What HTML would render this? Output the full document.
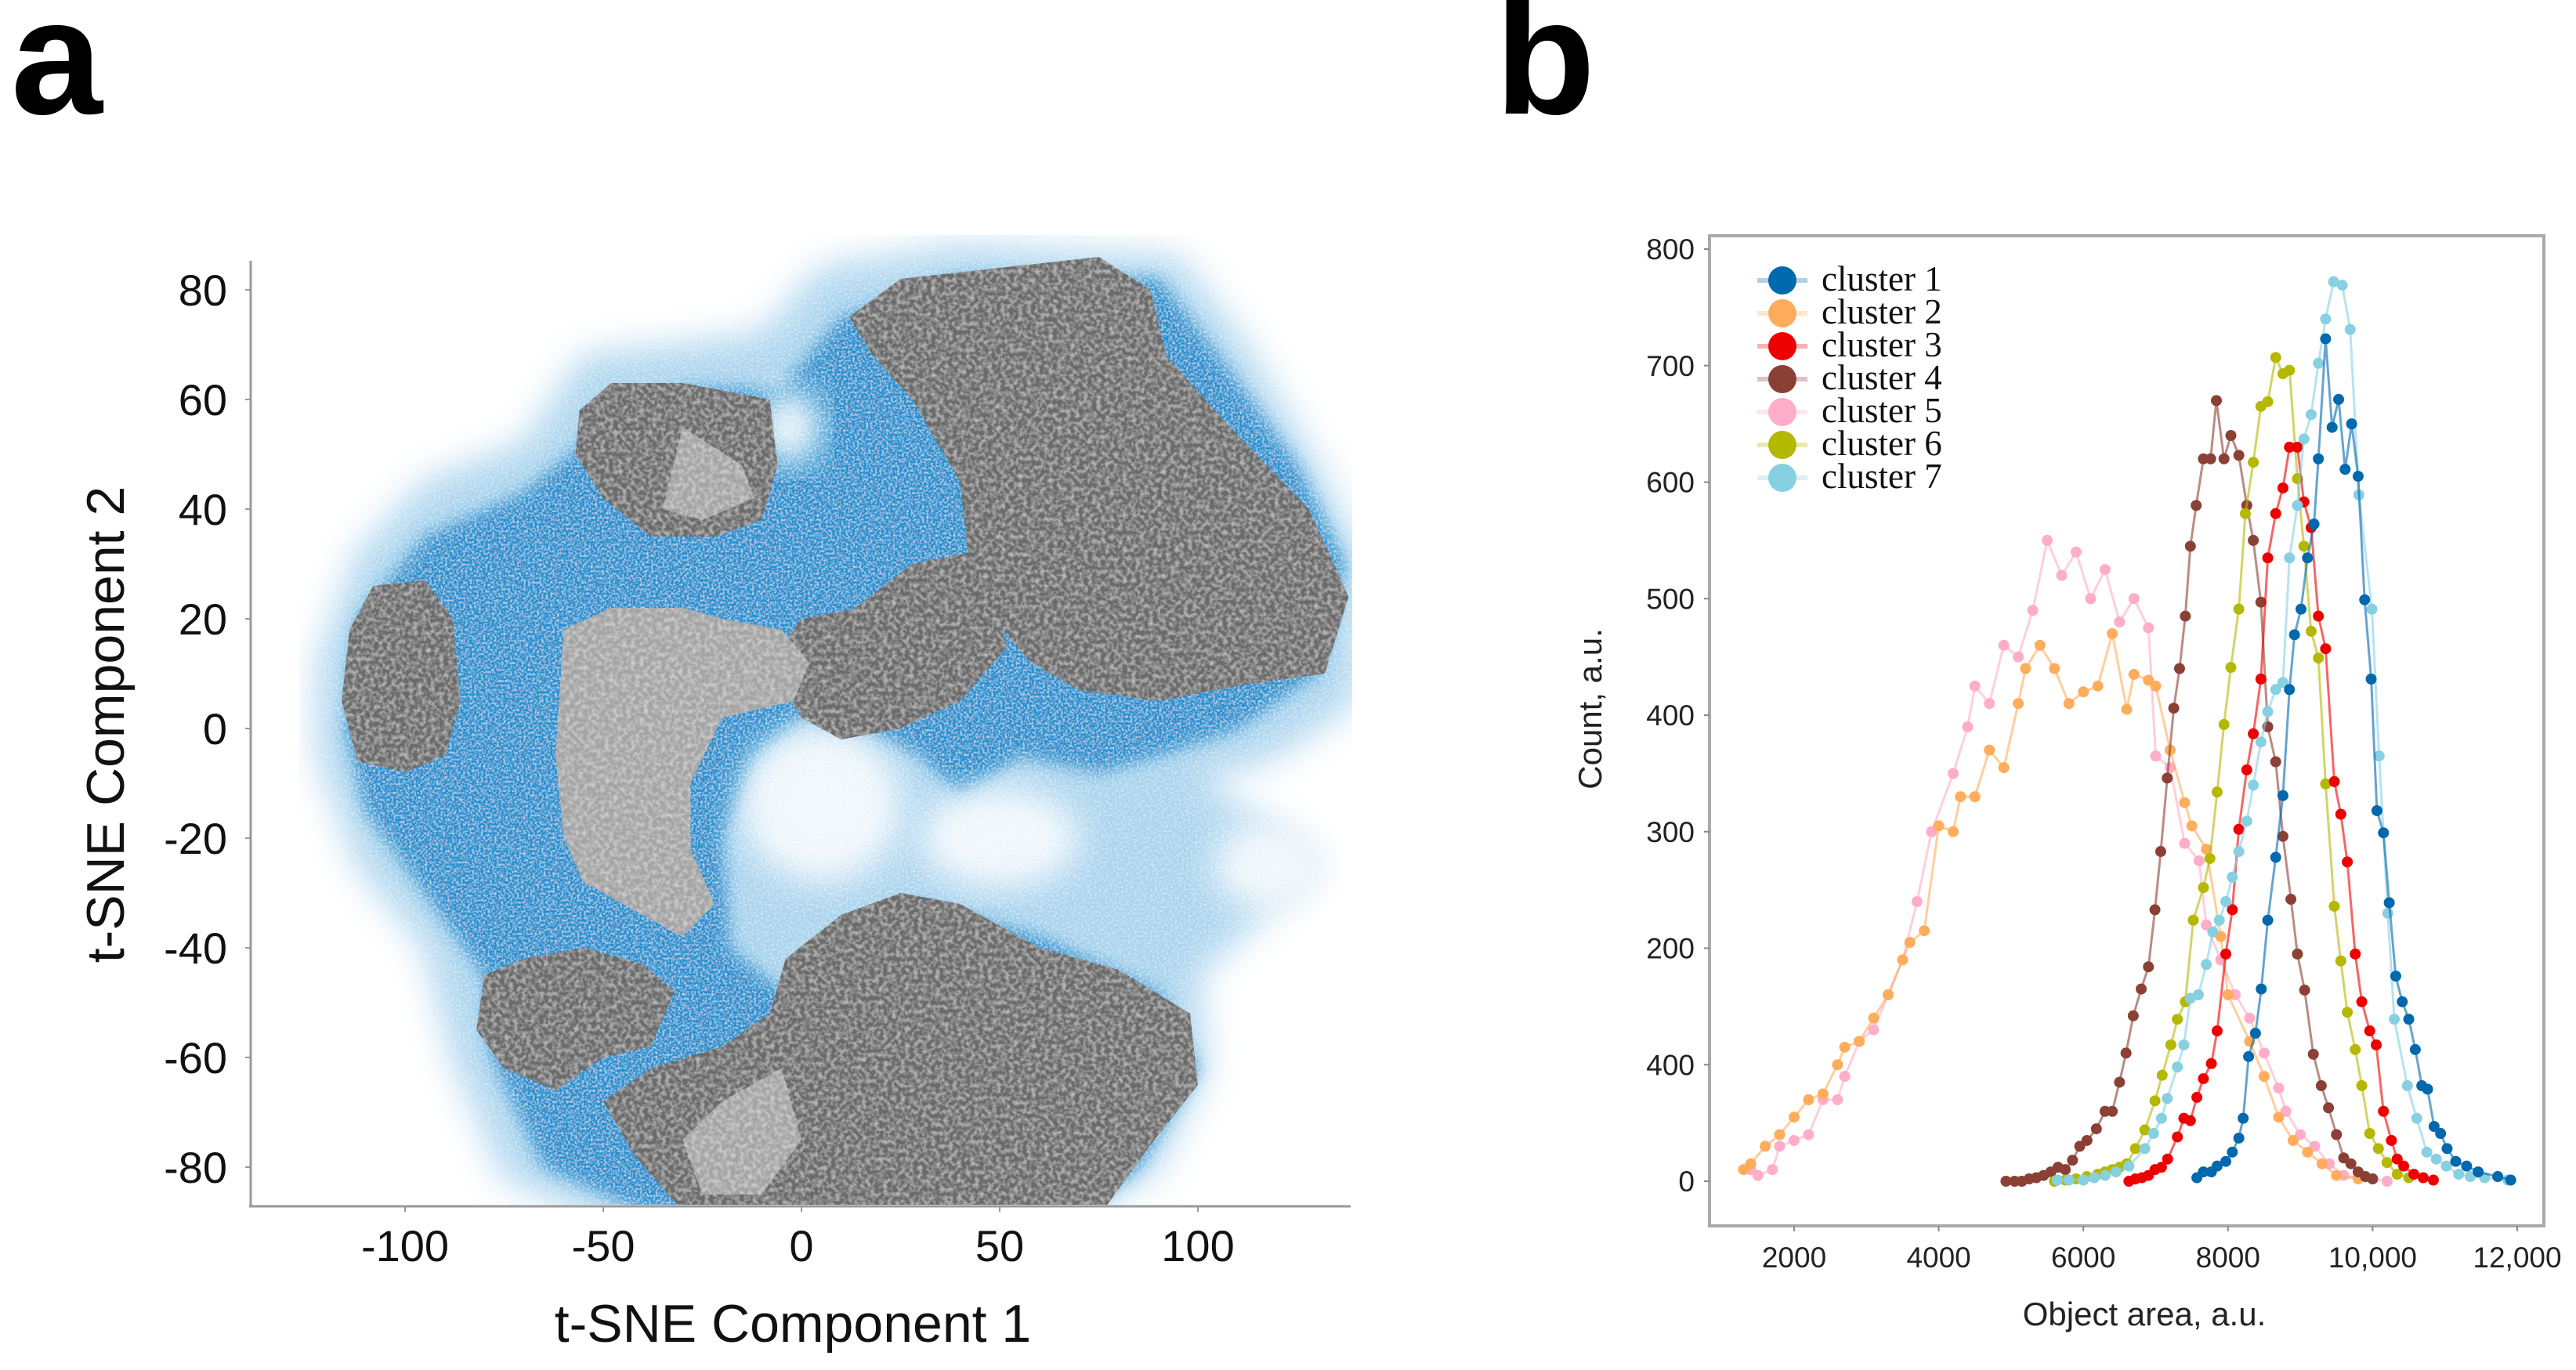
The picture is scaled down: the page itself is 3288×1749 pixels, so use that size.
<!DOCTYPE html>
<html><head><meta charset="utf-8"><style>
html,body{margin:0;padding:0;background:#fff;}
svg{display:block;}
text{font-family:"Liberation Sans",sans-serif;}
</style></head><body>
<svg id="fig" width="3288" height="1749" viewBox="0 0 3288 1749" xmlns="http://www.w3.org/2000/svg">
<defs>
<filter id="blurBig" x="-20%" y="-20%" width="140%" height="140%"><feGaussianBlur stdDeviation="22"/></filter>
<filter id="blurMid" x="-20%" y="-20%" width="140%" height="140%"><feGaussianBlur stdDeviation="10"/></filter>
<filter id="speck" x="-20%" y="-20%" width="140%" height="140%">
<feTurbulence type="fractalNoise" baseFrequency="0.35" numOctaves="2" seed="7" result="n"/>
<feColorMatrix in="n" type="matrix" values="0 0 0 0 1  0 0 0 0 1  0 0 0 0 1  0 0 0 1.4 -0.6" result="w"/>
<feComposite in="w" in2="SourceGraphic" operator="in" result="wm"/>
<feMerge><feMergeNode in="SourceGraphic"/><feMergeNode in="wm"/></feMerge>
</filter>
<filter id="tex" x="0" y="0" width="100%" height="100%">
<feTurbulence type="fractalNoise" baseFrequency="0.18" numOctaves="2" seed="3" result="n"/>
<feColorMatrix in="n" type="matrix" values="0 0 0 0 1  0 0 0 0 1  0 0 0 0 1  0 0 0 0.9 -0.35" result="w"/>
<feComposite in="w" in2="SourceGraphic" operator="in" result="wm"/>
<feMerge><feMergeNode in="SourceGraphic"/><feMergeNode in="wm"/></feMerge>
</filter>
</defs>
<text x="14" y="145" font-size="210" font-weight="bold">a</text>
<text x="1908" y="145" font-size="210" font-weight="bold">b</text>
<g id="tsne"></g>
<g id="hist"></g>
</svg>
<script>
var NS='http://www.w3.org/2000/svg';
function mk(parent,tag,attrs){var e=document.createElementNS(NS,tag);for(var k in attrs)e.setAttribute(k,attrs[k]);parent.appendChild(e);return e;}

/* ---------- panel a: t-SNE ---------- */
var tsneXTicks=[-100,-50,0,50,100];
var tsneYTicks=[80,60,40,20,0,-20,-40,-60,-80];
var haloShape=[[-122,12],[-112,32],[-95,45],[-70,52],[-55,68],[-30,70],[-10,72],[5,84],[40,88],[95,86],[112,70],[130,48],[142,30],[140,5],[120,-5],[100,-10],[120,-18],[130,-25],[115,-35],[100,-45],[102,-62],[90,-80],[70,-90],[-50,-90],[-75,-82],[-88,-60],[-95,-40],[-112,-25],[-122,-5]];
var denseShape=[[-112,20],[-95,35],[-70,43],[-50,55],[-30,62],[-5,62],[10,75],[40,82],[90,82],[105,68],[125,48],[137,30],[130,10],[110,0],[90,-5],[75,-8],[55,-5],[40,-12],[30,-5],[15,0],[0,2],[-12,-5],[-20,-20],[-18,-40],[-5,-48],[10,-40],[30,-32],[60,-38],[90,-48],[100,-62],[85,-80],[70,-88],[-40,-88],[-65,-80],[-78,-60],[-80,-45],[-95,-30],[-110,-15],[-115,0]];
var holes=[[5,-14,20,14],[50,-20,20,9],[-3,55,8,7],[118,-25,14,8]];
var darkBlobs=[
 [[-114,18],[-108,26],[-95,27],[-88,20],[-86,5],[-90,-5],[-100,-8],[-112,-6],[-116,5]],
 [[-56,58],[-48,63],[-30,63],[-8,60],[-6,48],[-10,38],[-22,35],[-38,35],[-50,42],[-57,50]],
 [[12,75],[25,82],[50,84],[75,86],[88,80],[92,68],[108,55],[128,40],[138,24],[132,10],[112,8],[90,5],[70,7],[58,12],[48,20],[35,22],[25,18],[15,12],[8,5],[2,12],[10,20],[28,30],[42,32],[40,45],[28,60],[18,68]],
 [[-8,12],[0,20],[15,22],[30,25],[45,28],[52,15],[40,5],[25,0],[10,-2],[0,2]],
 [[-80,-45],[-70,-42],[-55,-40],[-40,-43],[-32,-48],[-38,-58],[-50,-60],[-62,-66],[-75,-62],[-82,-55]],
 [[-30,-88],[-42,-78],[-50,-68],[-38,-62],[-20,-58],[-8,-52],[-4,-42],[10,-34],[25,-30],[40,-32],[60,-40],[80,-44],[98,-52],[100,-65],[88,-76],[76,-88]]
];
var lightBlobs=[
 [[-60,18],[-48,22],[-30,22],[-20,20],[-5,18],[2,12],[-2,5],[-20,2],[-28,-10],[-28,-22],[-22,-32],[-30,-38],[-45,-32],[-55,-28],[-60,-20],[-62,-5]],
 [[-30,-75],[-20,-68],[-5,-62],[0,-75],[-10,-85],[-25,-85]],
 [[-30,55],[-15,48],[-12,42],[-25,38],[-35,40]]
];
var TX0=1023,TXK=5.06,TY0=930,TYK=7;
function tx(v){return TX0+v*TXK;}
function ty(v){return TY0-v*TYK;}
function pts(arr){return arr.map(function(p){return tx(p[0]).toFixed(1)+','+ty(p[1]).toFixed(1);}).join(' ');}
var ga=document.getElementById('tsne');
var clip=mk(document.querySelector('defs'),'clipPath',{id:'tclip'});
mk(clip,'rect',{x:321,y:300,width:1405,height:1238});
var gl=mk(ga,'g',{'clip-path':'url(#tclip)'});
var gblue=mk(gl,'g',{filter:'url(#speck)'});
var halo=mk(gblue,'polygon',{points:pts(haloShape),fill:'#8cc6e8',opacity:'0.75',filter:'url(#blurBig)'});


var dense=mk(gblue,'polygon',{points:pts(denseShape),fill:'#2391cf',filter:'url(#blurMid)'});


holes.forEach(function(h){
  var e=mk(gblue,'ellipse',{cx:tx(h[0]),cy:ty(h[1]),rx:h[2]*TXK,ry:h[3]*TYK,fill:'#f2f8fc',filter:'url(#blurBig)'});
  
  
});
var gg=mk(gl,'g',{filter:'url(#tex)'});
darkBlobs.forEach(function(b){
  var e=mk(gg,'polygon',{points:pts(b),fill:'#6b6b6b'});
  
  
});
lightBlobs.forEach(function(b){
  var e=mk(gg,'polygon',{points:pts(b),fill:'#a4a4a4'});
  
  
});
var ax=mk(ga,'line',{x1:320,y1:333,x2:320,y2:1540,stroke:'#999','stroke-width':3});

var ax2=mk(ga,'line',{x1:318,y1:1540,x2:1724,y2:1540,stroke:'#999','stroke-width':3});

tsneYTicks.forEach(function(v){
  mk(ga,'line',{x1:313,y1:ty(v),x2:320,y2:ty(v),stroke:'#999','stroke-width':2});
  var t=mk(ga,'text',{x:290,y:ty(v)+20,'font-size':56,'text-anchor':'end',fill:'#111'});
  t.textContent=v;
  
  
});
tsneXTicks.forEach(function(v){
  mk(ga,'line',{x1:tx(v),y1:1540,x2:tx(v),y2:1547,stroke:'#999','stroke-width':2});
  var t=mk(ga,'text',{x:tx(v),y:1610,'font-size':56,'text-anchor':'middle',fill:'#111'});
  t.textContent=v;
  
  
});
var xt=mk(ga,'text',{x:1012,y:1713,'font-size':68,'text-anchor':'middle',fill:'#111'});
xt.textContent='t-SNE Component 1';

var yt=mk(ga,'text',{x:0,y:0,'font-size':68,'text-anchor':'middle',fill:'#111',transform:'translate(158,925) rotate(-90)'});
yt.textContent='t-SNE Component 2';


/* ---------- panel b: histogram lines ---------- */
var histYTicks=[0,100,200,300,400,500,600,700,800];
var histYTickLabels=['0','400','200','300','400','500','600','700','800'];
var histXTicks=[2000,4000,6000,8000,10000,12000];
var histXTickLabels=['2000','4000','6000','8000','10,000','12,000'];
var clusterNames=['cluster 1','cluster 2','cluster 3','cluster 4','cluster 5','cluster 6','cluster 7'];
var clusterColors=['#0068ad','#ffad5c','#ee0000','#8b4035','#ffadc8','#b5b800','#86d0e2'];
var c1x=[7570,7660,7770,7850,7970,8060,8150,8210,8285,8380,8460,8550,8660,8760,8850,8920,9010,9100,9190,9250,9350,9440,9530,9620,9710,9800,9890,9980,10060,10150,10230,10320,10410,10500,10590,10680,10760,10850,10940,11030,11150,11300,11460,11730,11910];
var c1y=[3,8,8,13,17,25,37,54,107,127,165,224,278,331,422,469,491,535,564,620,723,647,671,611,650,605,499,431,318,299,239,176,154,139,113,82,79,47,41,28,17,13,8,4,1];
var c2x=[1300,1400,1600,1800,2000,2200,2400,2600,2700,2900,3100,3300,3500,3600,3800,4000,4200,4300,4500,4700,4900,5100,5200,5400,5600,5800,6000,6200,6400,6600,6700,6900,7000,7200,7400,7500,7700,7900,8000,8300,8500,8700,8900,9100,9300,9500,9800];
var c2y=[10,15,30,40,55,70,75,100,115,120,140,160,190,205,215,305,300,330,330,370,355,410,440,460,440,410,420,425,470,405,435,430,425,370,325,305,285,210,160,120,90,55,35,25,15,5,2];
var c3x=[6630,6720,6810,6900,6990,7080,7165,7300,7390,7480,7570,7660,7770,7850,7970,8060,8150,8260,8350,8455,8550,8660,8760,8850,8960,9050,9150,9250,9350,9470,9560,9650,9760,9850,9960,10050,10150,10260,10340,10430,10570,10700,10840];
var c3y=[0,2,3,5,10,12,19,38,54,52,72,88,101,129,195,233,302,353,384,431,535,573,595,630,630,583,561,485,457,343,315,274,195,154,129,117,60,35,19,13,6,3,1];
var c4x=[4930,5050,5150,5250,5350,5450,5550,5650,5750,5850,5950,6050,6180,6300,6400,6500,6590,6690,6800,6900,6990,7070,7160,7250,7330,7410,7480,7560,7660,7760,7840,7945,8040,8150,8260,8350,8455,8550,8660,8760,8870,8960,9060,9180,9290,9390,9500,9600,9700,9800,9900,10000];
var c4y=[0,0,0,2,3,5,8,12,10,18,30,35,45,60,60,85,110,142,165,184,233,283,346,406,440,485,545,580,620,620,670,620,640,623,580,550,497,390,360,296,242,195,164,109,82,63,40,20,15,8,4,2];
var c5x=[1400,1500,1700,1800,2000,2200,2400,2600,2700,2900,3100,3300,3500,3700,3900,4200,4400,4500,4700,4900,5100,5300,5500,5700,5900,6100,6300,6500,6700,6900,7000,7200,7400,7600,7700,7900,8100,8300,8500,8700,8800,9000,9200,9400,9600,9800,10000,10200];
var c5y=[10,5,10,30,35,40,70,70,90,120,130,160,190,240,300,350,390,425,410,460,450,490,550,520,540,500,525,480,500,475,365,355,290,275,220,190,160,140,110,80,60,40,30,15,5,3,2,0];
var c6x=[5600,5750,5900,6050,6200,6300,6400,6500,6600,6720,6850,6990,7090,7210,7300,7410,7520,7660,7750,7850,7945,8040,8150,8240,8350,8455,8550,8660,8760,8850,8960,9050,9150,9250,9350,9470,9560,9650,9760,9850,9960,10080,10200,10340,10500];
var c6y=[0,1,2,4,6,8,10,12,15,28,44,69,91,117,139,154,224,252,277,334,392,441,491,573,617,665,669,707,693,696,603,545,472,449,341,236,189,145,113,82,41,28,16,6,3];
var c7x=[5640,5800,6000,6150,6300,6450,6630,6850,6970,7080,7160,7300,7390,7480,7590,7700,7790,7880,7970,8060,8150,8260,8350,8455,8550,8660,8760,8850,8960,9050,9150,9250,9350,9460,9580,9690,9810,9990,10090,10210,10300,10480,10610,10750,10880,11020,11190,11350,11550,11870];
var c7y=[1,1,1,3,5,8,13,28,41,54,71,98,117,157,160,186,214,224,240,261,283,309,340,377,403,422,428,535,580,637,658,702,740,772,769,731,589,491,365,230,139,82,54,25,19,13,6,4,3,1];

var HX0=2290,HXK=0.0923,HY0=1508,HYK=1.4875;
function hx(v){return HX0+(v-2000)*HXK;}
function hy(v){return HY0-v*HYK;}
var gb=document.getElementById('hist');
var frame=mk(gb,'rect',{x:2182,y:301,width:1065,height:1264,fill:'none',stroke:'#aaa','stroke-width':4});

histYTicks.forEach(function(v,i){
  mk(gb,'line',{x1:2175,y1:hy(v),x2:2182,y2:hy(v),stroke:'#888','stroke-width':2});
  var t=mk(gb,'text',{x:2163,y:hy(v)+13,'font-size':37,'text-anchor':'end',fill:'#222'});
  t.textContent=histYTickLabels[i];
  
  
});
histXTicks.forEach(function(v,i){
  mk(gb,'line',{x1:hx(v),y1:1565,x2:hx(v),y2:1572,stroke:'#888','stroke-width':2});
  var t=mk(gb,'text',{x:hx(v),y:1618,'font-size':37,'text-anchor':'middle',fill:'#222'});
  t.textContent=histXTickLabels[i];
  
  
});
var bx=mk(gb,'text',{x:2737,y:1692,'font-size':42,'text-anchor':'middle',fill:'#222'});
bx.textContent='Object area, a.u.';

var by=mk(gb,'text',{x:0,y:0,'font-size':42,'text-anchor':'middle',fill:'#222',transform:'translate(2044,905) rotate(-90)'});
by.textContent='Count, a.u.';


var seriesX=[c1x,c2x,c3x,c4x,c5x,c6x,c7x];
var seriesY=[c1y,c2y,c3y,c4y,c5y,c6y,c7y];
var order=[4,1,3,5,2,6,0];
order.forEach(function(s){
  var g=mk(gb,'g',{});
  
  
  var d=seriesX[s].map(function(x,i){return hx(x).toFixed(1)+','+hy(seriesY[s][i]).toFixed(1);}).join(' ');
  var pl=mk(g,'polyline',{points:d,fill:'none',stroke:clusterColors[s],'stroke-width':3,opacity:'0.6'});
  
  
  seriesX[s].forEach(function(x,i){
    var c=mk(g,'circle',{cx:hx(x),cy:hy(seriesY[s][i]),r:7,fill:clusterColors[s]});
    
    
  });
});
var lg=mk(gb,'g',{});


clusterNames.forEach(function(n,i){
  var y=358+i*42;
  var e=mk(lg,'g',{});
  
  
  mk(e,'line',{x1:2243,y1:y,x2:2307,y2:y,stroke:clusterColors[i],'stroke-width':6,opacity:'0.3'});
  mk(e,'circle',{cx:2275,cy:y,r:18,fill:clusterColors[i]});
  var t=mk(e,'text',{x:2325,y:y+13,'font-size':45,fill:'#111'});
  t.setAttribute('style','font-family:"Liberation Serif",serif');
  t.textContent=n;
});
</script>
</body></html>
